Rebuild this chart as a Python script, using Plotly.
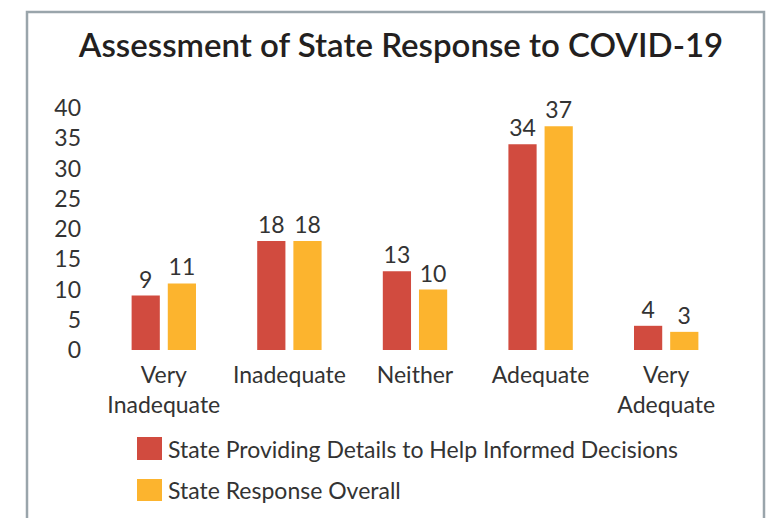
import plotly.graph_objects as go

categories = ["Very<br>Inadequate", "Inadequate", "Neither", "Adequate", "Very<br>Adequate"]
series_names = ["State Providing Details to Help Informed Decisions", "State Response Overall"]
details_values = [9, 18, 13, 34, 4]
overall_values = [11, 18, 10, 37, 3]
y_ticks = [0, 5, 10, 15, 20, 25, 30, 35, 40]

colors = ["#d14b3f", "#fcb42e"]
FONT = "Lato"
TXT = "#333333"

OFF = 8  # page body margin
W, H = 774 - OFF, 518 - OFF
L, R, T, B = 93, 45, 100, 168
pw, ph = W - L - R, H - T - B

def px_x(px):
    return (px - OFF - L) / pw

def px_y(py):
    return (H - B - (py - OFF)) / ph

fig = go.Figure()
for name, vals, col in zip(series_names, [details_values, overall_values], colors):
    fig.add_trace(go.Bar(
        x=categories, y=vals, name=name, marker_color=col, marker_line_width=0,
        text=[str(v) for v in vals], textposition="outside",
        textfont=dict(family=FONT, size=23, color=TXT),
        cliponaxis=False, showlegend=False,
    ))

shapes = [dict(type="rect", xref="paper", yref="paper",
               x0=px_x(27), x1=px_x(764), y0=px_y(12), y1=px_y(540),
               line=dict(color="#9aa5ab", width=2.5), fillcolor="rgba(0,0,0,0)", layer="below")]
annotations = []
leg_rows = [(437, 460), (479, 501)]
for (top, bot), name, col in zip(leg_rows, series_names, colors):
    shapes.append(dict(type="rect", xref="paper", yref="paper",
                       x0=px_x(137), x1=px_x(162), y0=px_y(bot), y1=px_y(top),
                       line=dict(width=0), fillcolor=col))
    annotations.append(dict(xref="paper", yref="paper", x=px_x(166), y=px_y((top + bot) / 2),
                            text=name, showarrow=False, xanchor="left", yanchor="middle",
                            font=dict(family=FONT, size=23, color=TXT)))

fig.update_layout(
    width=W, height=H,
    margin=dict(l=L, r=R, t=T, b=B),
    paper_bgcolor="white", plot_bgcolor="white",
    barmode="group", bargap=0.424, bargroupgap=0.22,
    title=dict(text="Assessment of State Response to COVID-19",
               x=(401 - OFF) / W, xref="container", xanchor="center",
               y=1 - (45 - OFF) / H, yref="container", yanchor="middle",
               font=dict(family=FONT, size=33, color="#231f20", weight=600)),
    xaxis=dict(showgrid=False, showline=False, zeroline=False, ticks="",
               ticklabelstandoff=9,
               tickfont=dict(family=FONT, size=23, color=TXT)),
    yaxis=dict(range=[0, 40], tickvals=y_ticks, showgrid=False, showline=False,
               zeroline=False, ticks="", ticklabelstandoff=19,
               tickfont=dict(family=FONT, size=23, color=TXT)),
    shapes=shapes, annotations=annotations, showlegend=False,
)

fig.write_html("out.html")
